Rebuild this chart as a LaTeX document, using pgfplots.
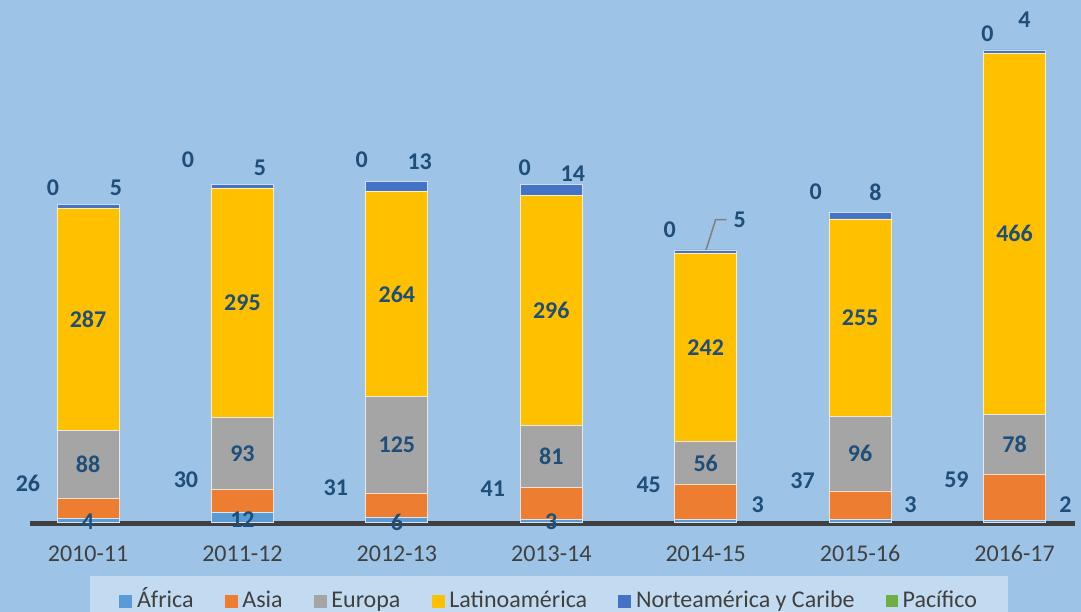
\documentclass[border=0pt]{standalone}
\usepackage{pgfplots}
\pgfplotsset{compat=1.18}
\usepackage{fontspec}
\setmainfont{Carlito}
\definecolor{bg}{HTML}{9DC3E6}
\definecolor{legbg}{HTML}{C3DBF0}
\definecolor{lblue}{HTML}{1F4E79}
\definecolor{tickgray}{HTML}{404040}
\definecolor{cAf}{HTML}{5B9BD5}
\definecolor{cAs}{HTML}{ED7D31}
\definecolor{cEu}{HTML}{A5A5A5}
\definecolor{cLa}{HTML}{FFC000}
\definecolor{cNo}{HTML}{4472C4}
\definecolor{cPa}{HTML}{70AD47}
\pgfplotsset{
  mybar/.style={fill=#1, draw=white!75!#1, line width=0.8pt,
    legend image code/.code={\fill[#1] (0pt,-6pt) rectangle (12pt,6pt);}},
  commonax/.style={at={(0pt,90pt)}, anchor=south west, scale only axis,
    width=1081pt, height=522pt, xmin=-0.57, xmax=6.43, ymin=0, ymax=673.5},
  lbl/.style={only marks, mark=*, mark size=0pt, mark options={draw=none,fill=none},
    nodes near coords, point meta=explicit symbolic,
    nodes near coords style={anchor=center, font=\bfseries\fontsize{24}{24}\selectfont, text=lblue}},
}
\begin{document}
\begin{tikzpicture}
\path[use as bounding box] (0pt,0pt) rectangle (1081pt,612pt);
\clip (0pt,0pt) rectangle (1081pt,612pt);
\fill[bg] (0pt,0pt) rectangle (1081pt,612pt);
\begin{axis}[commonax, clip=false,
  ybar stacked, bar width=62pt,
  axis line style={draw=none}, tick style={draw=none},
  ytick=\empty, xtick={0,1,2,3,4,5,6},
  xticklabels={2010-11,2011-12,2012-13,2013-14,2014-15,2015-16,2016-17},
  xticklabel style={anchor=base, yshift=-40pt, font=\fontsize{24}{24}\selectfont, text=tickgray},
  legend columns=-1,
  legend style={at={(0.508,-0.152)}, anchor=center, fill=legbg, draw=none,
    font=\fontsize{24}{24}\selectfont, text=tickgray, inner xsep=29pt, inner ysep=12pt,
    nodes={inner sep=2pt, text height=17pt, text depth=5pt},
    /tikz/every odd column/.append style={column sep=3pt},
    /tikz/every even column/.append style={column sep=29pt}},
]
\addplot[mybar=cAf] coordinates {(0,4) (1,12) (2,6) (3,3) (4,3) (5,3) (6,2)};
\addlegendentry{África}
\addplot[mybar=cAs] coordinates {(0,26) (1,30) (2,31) (3,41) (4,45) (5,37) (6,59)};
\addlegendentry{Asia}
\addplot[mybar=cEu] coordinates {(0,88) (1,93) (2,125) (3,81) (4,56) (5,96) (6,78)};
\addlegendentry{Europa}
\addplot[mybar=cLa] coordinates {(0,287) (1,295) (2,264) (3,296) (4,242) (5,255) (6,466)};
\addlegendentry{Latinoamérica}
\addplot[mybar=cNo] coordinates {(0,5) (1,5) (2,13) (3,14) (4,5) (5,8) (6,4)};
\addlegendentry{Norteamérica y Caribe}
\addplot[mybar=cPa, draw=none] coordinates {(0,0) (1,0) (2,0) (3,0) (4,0) (5,0) (6,0)};
\addlegendentry{Pacífico}
\draw[line width=5pt, tickgray] (axis cs:-0.376,-1.5) -- (axis cs:6.39,-1.5);
\draw[line width=1.5pt, gray] (axis cs:3.999,349) -- (axis cs:4.064,390) -- (axis cs:4.136,390);
\end{axis}
\begin{axis}[commonax, hide axis, clip=false]
% Africa labels
\addplot[lbl] table[meta=l] {
x y l
0 0 4
1 3 12
2 0 6
3 0 3
4.336 22 3
5.326 22 3
6.33 22 2
};
% Asia labels
\addplot[lbl] table[meta=l] {
x y l
-0.389 50 26
0.634 54 30
1.605 44 31
2.621 43 41
3.631 48 45
4.627 53 37
5.624 54 59
};
% Europa labels
\addplot[lbl] table[meta=l] {
x y l
0 74 88
1 88.5 93
2 99.5 125
3 84.5 81
4 76 56
5 88 96
6 100 78
};
% Latinoamerica labels
\addplot[lbl] table[meta=l] {
x y l
0 261.5 287
1 282.5 295
2 294 264
3 273 296
4 225 242
5 263.5 255
6 372 466
};
% Norteamerica labels
\addplot[lbl] table[meta=l] {
x y l
0.181 431 5
1.113 457 5
2.148 465 13
3.139 450 14
4.22 390 5
5.10 426 8
6.064 648 4
};
% Pacifico labels
\addplot[lbl] table[meta=l] {
x y l
-0.227 431 0
0.647 467 0
1.773 467 0
2.828 457 0
3.767 377 0
4.712 426 0
5.825 630 0
};
\end{axis}
\end{tikzpicture}
\end{document}
